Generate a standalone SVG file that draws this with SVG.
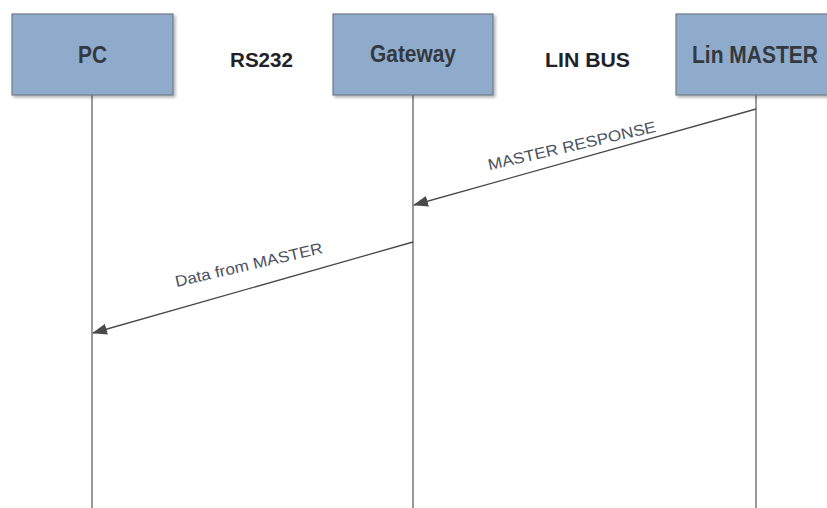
<svg xmlns="http://www.w3.org/2000/svg" width="827" height="508" viewBox="0 0 827 508">
<style>
.box{fill:#8eabcc;stroke:#6f7a86;stroke-width:1.2}
.life{stroke:#777;stroke-width:1.5;fill:none}
.msg{stroke:#4a4a4a;stroke-width:1.3;fill:none}
.t{font-family:"Liberation Sans",Arial,sans-serif;font-size:23.5px;font-weight:bold;fill:#34383f;text-anchor:middle}
.b{font-family:"Liberation Sans",Arial,sans-serif;font-size:21px;font-weight:bold;fill:#1f2228;text-anchor:middle}
.l{font-family:"Liberation Sans",Arial,sans-serif;font-size:15.5px;fill:#4a5160;text-anchor:middle}
</style>
<defs>
<filter id="sh" x="-10%" y="-10%" width="130%" height="130%"><feDropShadow dx="2" dy="2" stdDeviation="1.5" flood-color="#000" flood-opacity="0.3"/></filter>
<marker id="ah" markerWidth="15" markerHeight="11" refX="14" refY="5.5" orient="auto" markerUnits="userSpaceOnUse"><path d="M0,0 L15,5.5 L0,11 Z" fill="#4a4a4a"/></marker>
</defs>
<rect width="827" height="508" fill="#fff"/>
<g id="lifelines">
<line class="life" x1="92" y1="95" x2="92" y2="508"/>
<line class="life" x1="413" y1="95" x2="413" y2="508"/>
<line class="life" x1="756" y1="95" x2="756" y2="508"/>
</g>
<g id="PC"><rect class="box" x="12" y="14" width="161" height="81" filter="url(#sh)"/><text class="t" x="92.5" y="63" textLength="29" lengthAdjust="spacingAndGlyphs">PC</text></g>
<g id="Gateway"><rect class="box" x="333" y="14" width="160" height="81" filter="url(#sh)"/><text class="t" x="413" y="62" textLength="86" lengthAdjust="spacingAndGlyphs">Gateway</text></g>
<g id="LinMASTER"><rect class="box" x="676" y="14" width="160" height="81" filter="url(#sh)"/><text class="t" x="755" y="63" textLength="126" lengthAdjust="spacingAndGlyphs">Lin MASTER</text></g>
<g id="RS232"><text class="b" x="261.5" y="67" textLength="63" lengthAdjust="spacingAndGlyphs">RS232</text></g>
<g id="LINBUS"><text class="b" x="587.5" y="67" textLength="85" lengthAdjust="spacingAndGlyphs">LIN BUS</text></g>
<g id="connectors">
<line class="msg" x1="756" y1="109" x2="414" y2="205" marker-end="url(#ah)"/>
<text class="l" transform="translate(573,151) rotate(-13)" textLength="172" lengthAdjust="spacingAndGlyphs">MASTER RESPONSE</text>
<line class="msg" x1="413" y1="242" x2="93" y2="333" marker-end="url(#ah)"/>
<text class="l" transform="translate(250,270) rotate(-13)" textLength="151" lengthAdjust="spacingAndGlyphs">Data from MASTER</text>
</g>
</svg>
